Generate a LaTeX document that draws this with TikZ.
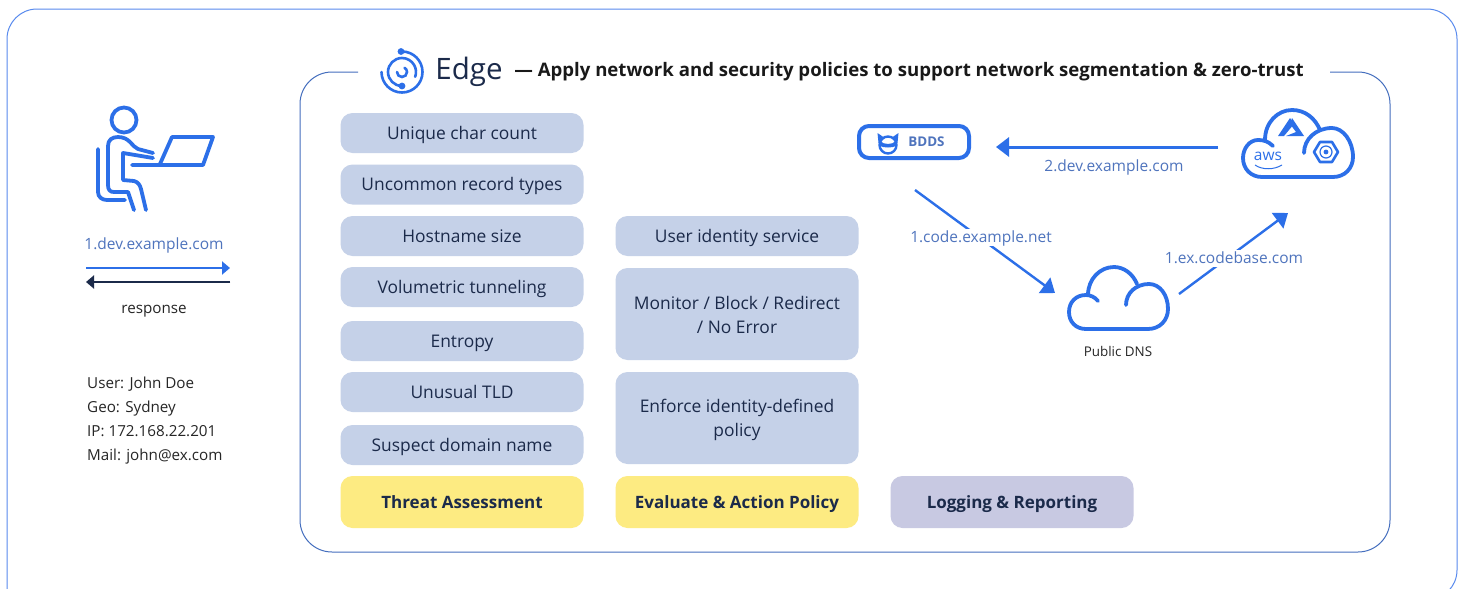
\documentclass[tikz,border=0pt]{standalone}
\usepackage{fontspec}
\setmainfont{Open Sans}
\usetikzlibrary{arrows.meta}
\definecolor{boxblue}{RGB}{197, 209, 232}
\definecolor{boxyellow}{RGB}{253, 235, 130}
\definecolor{boxlilac}{RGB}{200, 201, 226}
\definecolor{inkdark}{RGB}{27, 42, 74}
\definecolor{iconblue}{RGB}{44, 111, 232}
\definecolor{linkblue}{RGB}{79, 116, 189}
\definecolor{outerline}{RGB}{88, 138, 238}
\definecolor{panelline}{RGB}{68, 110, 190}
\newcommand{\fsize}[1]{\fontsize{#1}{#1}\selectfont}

\begin{document}
\begin{tikzpicture}[
  x=1pt, y=-1pt,
  pill/.style={fill=boxblue, rounded corners=12pt, minimum width=243pt, text=inkdark, font=\fsize{17.4}, align=center, inner sep=0pt},
  onepill/.style={pill, minimum height=40pt, text height=14pt, text depth=2pt},
  headpill/.style={onepill, minimum height=52pt, font=\fsize{17}\bfseries},
  icon/.style={draw=iconblue, line width=3.8pt, line cap=round, line join=round},
  logoline/.style={draw=iconblue, line width=2.6pt, line cap=round},
  linklabel/.style={text=linkblue, font=\fsize{15.5}, inner sep=1pt, text height=13pt, text depth=2pt},
  plainlabel/.style={text=black!85, font=\fsize{15.2}, inner sep=0pt, text height=13pt, text depth=2pt},
  flow/.style={draw=iconblue, line width=3pt, -{Triangle[length=13pt,width=19pt]}},
  thinflow/.style={line width=2pt, -{Triangle[length=8pt,width=13pt]}}
]
  \clip (0,0) rectangle (1460,589);
  \fill[white] (0,0) rectangle (1460,589);

  % Frames
  \draw[outerline, line width=1pt, rounded corners=30pt] (7,620) -- (7,9) -- (1457,9) -- (1457,600) -- (1400,600);
  \draw[panelline, line width=1pt, rounded corners=32pt] (358,72) -- (300,72) -- (300,552) -- (1390,552) -- (1390,72) -- (1330,72);

  % Title
  \draw[logoline] (402,51.5) arc[start angle=-90, end angle=180, radius=20.5];
  \draw[logoline] (402,86) arc[start angle=90, end angle=380, radius=14];
  \draw[logoline] (397,72) arc[start angle=180, end angle=-60, radius=5];
  \fill[iconblue] (401,51.5) circle[radius=3.4];
  \fill[iconblue] (402,86) circle[radius=3.4];
  \node[text=inkdark, font=\fsize{29.5}, inner sep=0pt] (edgename) at (469,72) {Edge};
  \node[text=black!90, font=\fsize{18.6}\bfseries, inner sep=0pt, text height=15pt, text depth=3pt] (edgetitle) at (909,70) {— Apply network and security policies to support network segmentation \& zero-trust};

  % User
  \draw[icon] (124,120) circle[radius=12.5];
  \draw[icon] (153,153) -- (138,149) .. controls (132,147) and (130,137) .. (118,137) .. controls (112,137) and (108,140) .. (108,146) -- (108,185) .. controls (108,190) and (110,192) .. (114,192) -- (128,192) -- (134,210);
  \draw[icon] (153,158) -- (123,153) -- (123,180) -- (134,181) .. controls (138,182) and (140,185) .. (141,189) -- (146,210);
  \draw[icon] (98,149) -- (98,192) .. controls (98,197) and (102,200) .. (107,200) -- (125,200);
  \draw[icon] (132,165) -- (203,165) -- (213,137) -- (172,137) -- (160,164);

  \coordinate (sendstart) at (86,268);
  \coordinate (sendend) at (230,268);
  \coordinate (respstart) at (230,282);
  \coordinate (respend) at (86,282);
  \draw[thinflow, draw=iconblue, fill=iconblue] (sendstart) -- (sendend);
  \draw[thinflow, draw=inkdark, fill=inkdark] (respstart) -- (respend);
  \node[linklabel] (sendlabel) at (154,244) {1.dev.example.com};
  \node[plainlabel] (resplabel) at (154,308) {response};
  \foreach \y/\txt in {383/User: John Doe, 407/Geo: Sydney, 431/IP: 172.168.22.201, 455/Mail: john@ex.com} {
    \node[plainlabel, anchor=west] (user\y) at (87,\y) {\txt};
  }

  % Threat column
  \node[onepill] (charcount) at (462,133) {Unique char count};
  \node[onepill] (recordtypes) at (462,184.5) {Uncommon record types};
  \node[onepill] (hostsize) at (462,236) {Hostname size};
  \node[onepill] (tunneling) at (462,287) {Volumetric tunneling};
  \node[onepill] (entropy) at (462,341) {Entropy};
  \node[onepill] (tld) at (462,392) {Unusual TLD};
  \node[onepill] (suspect) at (462,445) {Suspect domain name};
  \node[headpill, fill=boxyellow] (threat) at (462,502) {Threat Assessment};

  % Policy column
  \node[onepill] (identity) at (737,236) {User identity service};
  \node[pill, minimum height=92pt] (monitor) at (737,314) {\rule{0pt}{15pt}Monitor / Block / Redirect\\[7pt]/ No Error};
  \node[pill, minimum height=92pt] (enforce) at (737,418) {\rule{0pt}{17pt}Enforce identity-defined\\[7pt]policy};
  \node[headpill, fill=boxyellow] (evaluate) at (737,502) {Evaluate \& Action Policy};
  \node[headpill, fill=boxlilac] (logging) at (1012,502) {Logging \& Reporting};

  % BDDS
  \node[draw=iconblue, line width=4pt, rounded corners=10pt, minimum width=110pt, minimum height=32pt, inner sep=0pt] (bdds) at (914,142) {\hspace*{25pt}\textcolor{linkblue}{\fsize{13.4}\bfseries BDDS}};
  \draw[iconblue, line width=2.4pt] (888,145) circle[radius=8.5];
  \fill[iconblue] (878.5,143) -- (877.5,133) -- (884,137.5) -- cycle;
  \fill[iconblue] (897.5,143) -- (898.5,133) -- (892,137.5) -- cycle;
  \fill[iconblue] (880,141) .. controls (884,145) and (892,145) .. (896,141) -- (896,146) .. controls (892,148) and (884,148) .. (880,146) -- cycle;

  % Public DNS
  \draw[icon] (1098,301) .. controls (1095,297) and (1090,295) .. (1086,295) .. controls (1076,295) and (1069,302) .. (1069,312) .. controls (1069,322) and (1076,329) .. (1086,329) -- (1148,329) .. controls (1160,329) and (1168,320) .. (1168,309) .. controls (1168,295) and (1160,284) .. (1149,284) .. controls (1136,284) and (1126,293) .. (1126,305);
  \draw[icon] (1088,295) .. controls (1088,279) and (1100,267) .. (1114,267) .. controls (1124,267) and (1133,274) .. (1137,284);
  \node[text=black!85, font=\fsize{13.4}, inner sep=0pt] (dnslabel) at (1118,351) {Public DNS};

  % Clouds
  \draw[icon] (1273,146) .. controls (1268,141) and (1263,140) .. (1258,140) .. controls (1249,140) and (1243,149) .. (1243,158) .. controls (1243,169) and (1251,177) .. (1262,177) -- (1333,177) .. controls (1345,177) and (1353,168) .. (1353,157) .. controls (1353,141) and (1343,128) .. (1332,128) .. controls (1316,128) and (1304,139) .. (1304,153);
  \draw[icon] (1265,140) .. controls (1265,122) and (1278,110) .. (1292,110) .. controls (1305,110) and (1315,118) .. (1320,130);
  \fill[iconblue] (1278,136) -- (1290,118) -- (1294,124) -- (1284,136) -- cycle;
  \fill[iconblue] (1292,118) -- (1304,136) -- (1286,136) -- (1296,132) -- (1290,124) -- cycle;
  \draw[iconblue, line width=2.6pt, line join=round] (1314,152) -- (1320,142) -- (1332,142) -- (1338,152) -- (1332,162) -- (1320,162) -- cycle;
  \draw[iconblue, line width=1.2pt] (1326,152) circle[radius=6];
  \fill[iconblue] (1326,152) circle[radius=2.4];
  \node[text=iconblue, font=\fsize{15.5}, inner sep=0pt] (awslabel) at (1268,156) {aws};
  \draw[iconblue, line width=1pt] (1255,165) .. controls (1262,170) and (1274,170) .. (1282,165);

  % Flows
  \coordinate (cloudout) at (1218,147);
  \coordinate (bddsin) at (996,147);
  \coordinate (bddsout) at (915,190);
  \coordinate (dnsin) at (1055,293);
  \coordinate (dnsout) at (1179,294);
  \coordinate (cloudin) at (1288,213);
  \draw[flow, fill=iconblue] (cloudout) -- (bddsin);
  \draw[flow, line width=2.4pt, fill=iconblue] (bddsout) -- (dnsin);
  \draw[flow, line width=2.4pt, fill=iconblue] (dnsout) -- (cloudin);
  \node[linklabel] (devlabel) at (1114,166) {2.dev.example.com};
  \node[linklabel, fill=white] (codelabel) at (981,237) {1.code.example.net};
  \node[linklabel, fill=white] (baselabel) at (1234,258) {1.ex.codebase.com};
\end{tikzpicture}
\end{document}
